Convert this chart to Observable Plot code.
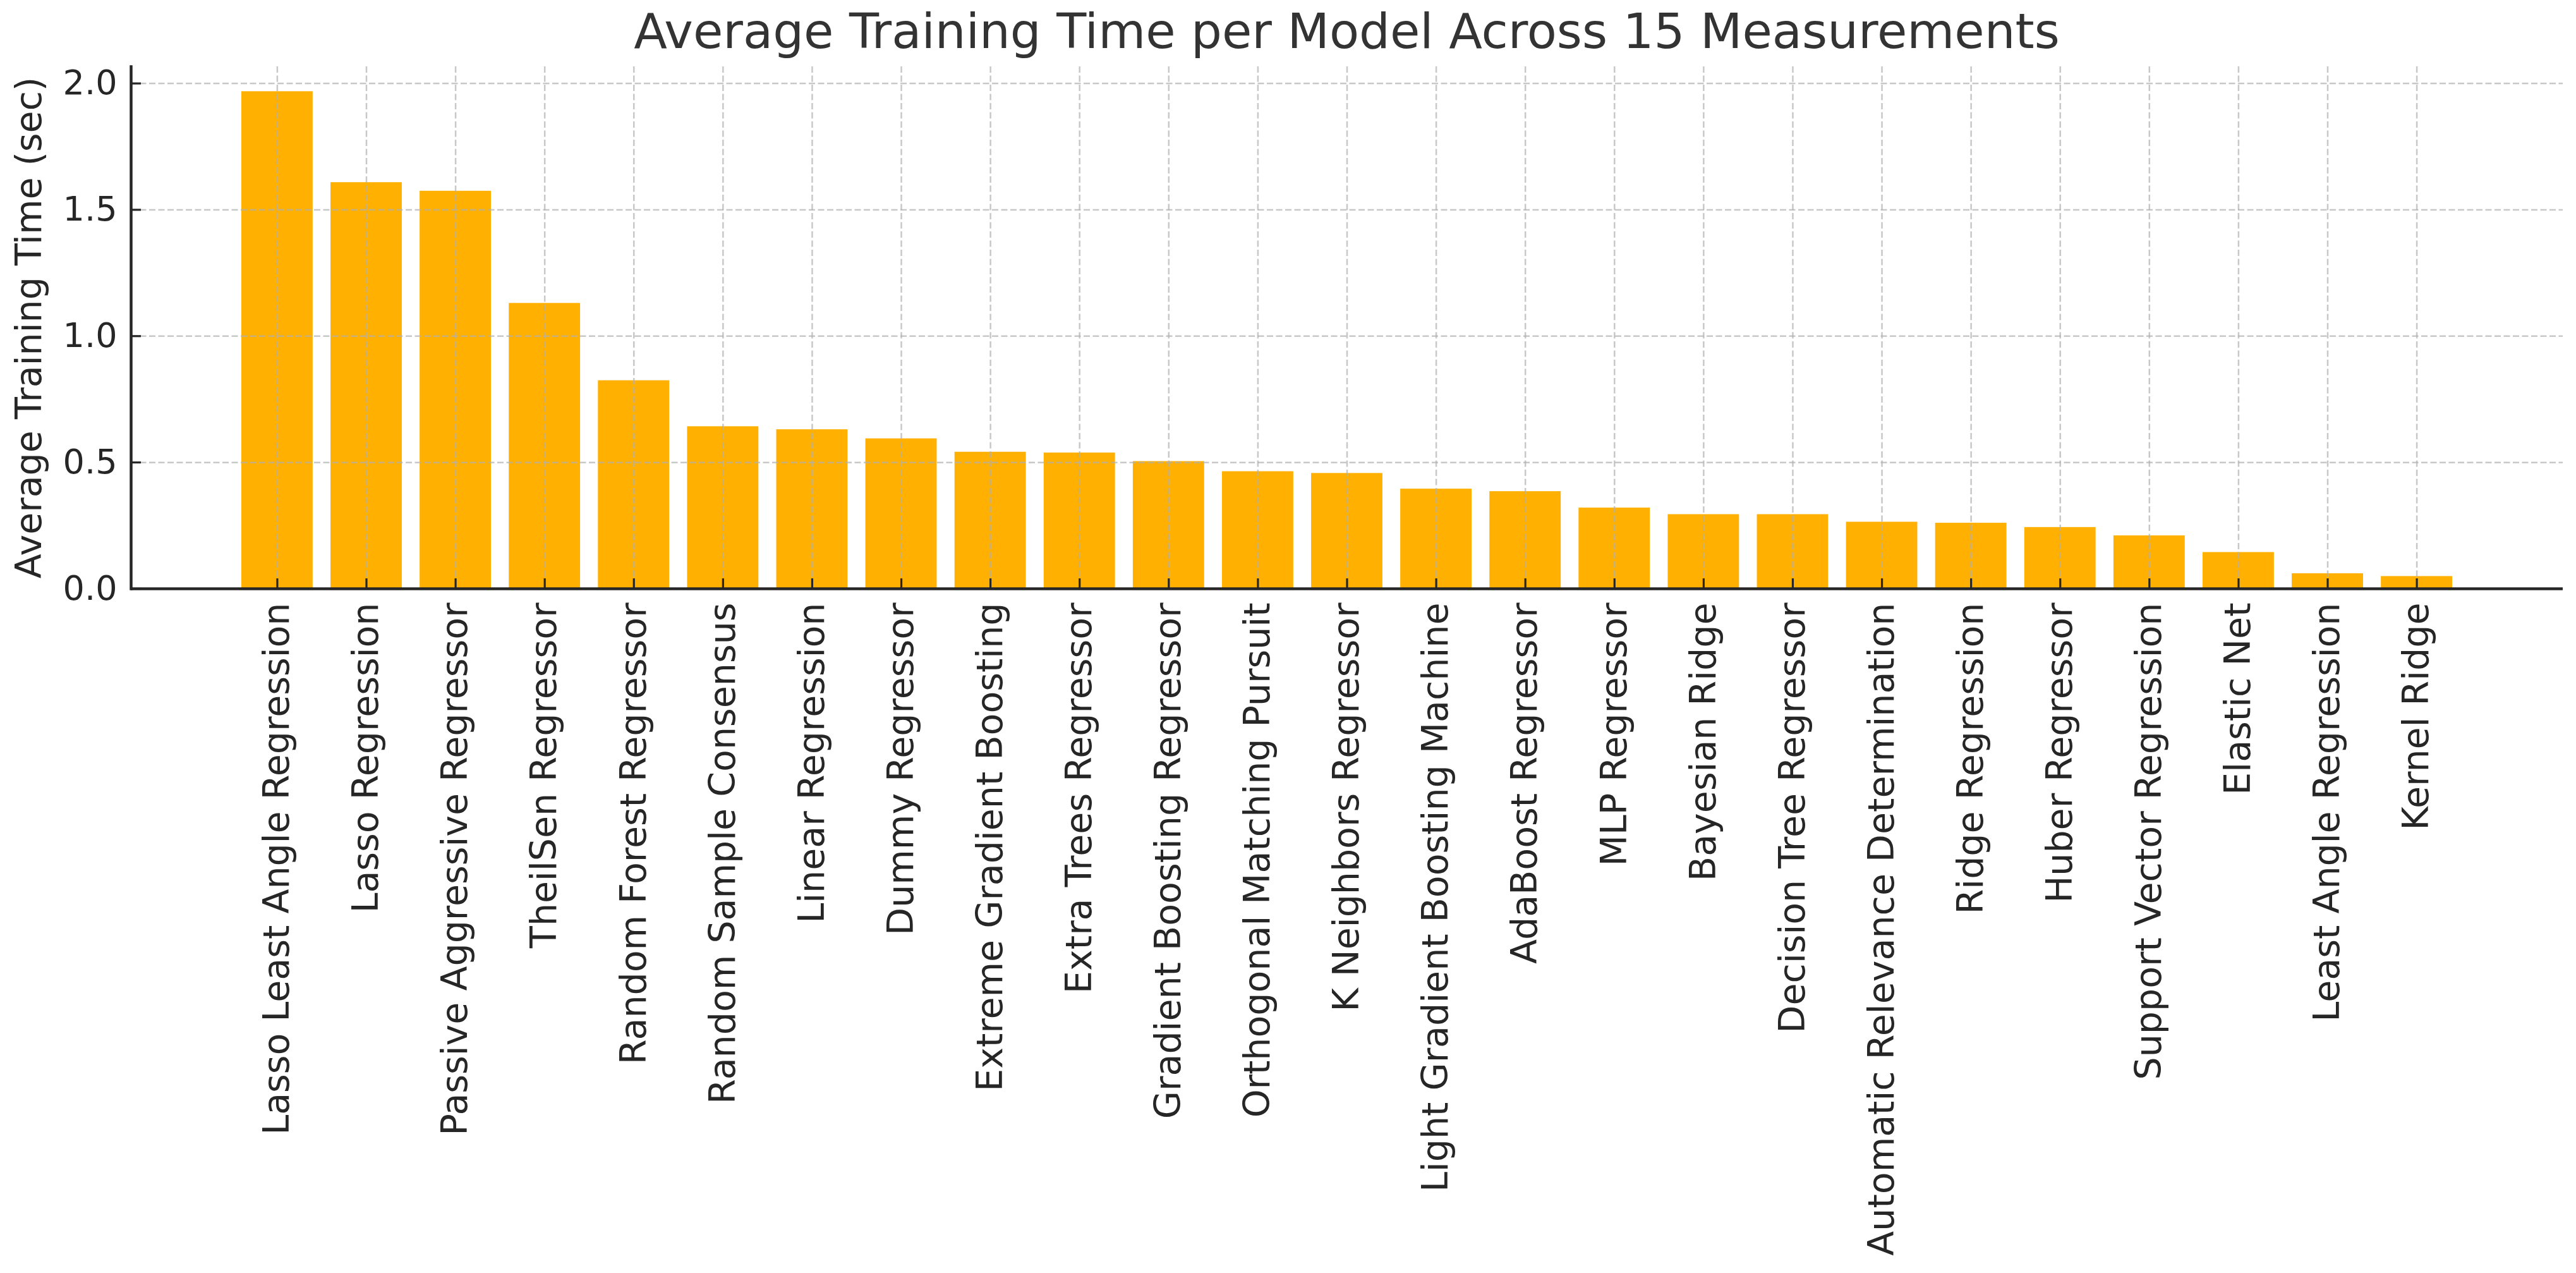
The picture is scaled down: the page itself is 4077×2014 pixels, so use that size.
<!DOCTYPE html>
<html>
<head>
<meta charset="utf-8">
<script src="https://cdn.jsdelivr.net/npm/d3@7"></script>
<script src="https://cdn.jsdelivr.net/npm/@observablehq/plot@0.6"></script>
<style>
  html, body { margin: 0; padding: 0; background: #ffffff; }
  #title {
    height: 100px; line-height: 100px;
    padding-left: 207px; padding-right: 21px;
    text-align: center; white-space: nowrap;
    font-family: "DejaVu Sans", sans-serif; font-size: 77px; color: #333333;
  }
</style>
</head>
<body>
<div id="title">Average Training Time per Model Across 15 Measurements</div>
<div id="chart"></div>
<script>
const models = [
  "Lasso Least Angle Regression",
  "Lasso Regression",
  "Passive Aggressive Regressor",
  "TheilSen Regressor",
  "Random Forest Regressor",
  "Random Sample Consensus",
  "Linear Regression",
  "Dummy Regressor",
  "Extreme Gradient Boosting",
  "Extra Trees Regressor",
  "Gradient Boosting Regressor",
  "Orthogonal Matching Pursuit",
  "K Neighbors Regressor",
  "Light Gradient Boosting Machine",
  "AdaBoost Regressor",
  "MLP Regressor",
  "Bayesian Ridge",
  "Decision Tree Regressor",
  "Automatic Relevance Determination",
  "Ridge Regression",
  "Huber Regressor",
  "Support Vector Regression",
  "Elastic Net",
  "Least Angle Regression",
  "Kernel Ridge"
];
const times = [
  1.968, 1.608, 1.574, 1.130, 0.824, 0.642, 0.630, 0.594, 0.541, 0.538,
  0.504, 0.464, 0.457, 0.395, 0.385, 0.320, 0.294, 0.294, 0.264, 0.260,
  0.243, 0.210, 0.144, 0.060, 0.049
];
const yTicks = [0, 0.5, 1.0, 1.5, 2.0];
const yLabel = "Average Training Time (sec)";

const data = models.map((m, i) => ({model: m, time: times[i]}));
const ink = "#262626";
const gridStyle = {stroke: "#b0b0b0", strokeOpacity: 0.7, strokeWidth: 2.5, strokeDasharray: "10,4.5"};

const chart = Plot.plot({
  width: 4077,
  height: 1914,
  marginTop: 5,
  marginLeft: 207,
  marginRight: 21,
  marginBottom: 1083,
  style: {fontFamily: "DejaVu Sans, sans-serif", background: "#ffffff", color: ink, overflow: "visible"},
  x: {type: "band", domain: models, paddingInner: 0.2, paddingOuter: 1.24, align: 0.5, round: false, label: null},
  y: {domain: [0, 2.0664], label: null},
  marks: [
    Plot.barY(data, {x: "model", y: "time", fill: "#ffb000"}),
    Plot.gridX(models, gridStyle),
    Plot.gridY(yTicks, gridStyle),
    // inward tick marks
    Plot.axisX(models, {tickSize: 16, dy: -16, fill: "none", stroke: ink, strokeWidth: 3.2, label: null}),
    Plot.axisY(yTicks, {tickSize: 16, dx: 16, fill: "none", stroke: ink, strokeWidth: 3.2, label: null}),
    // tick labels
    Plot.axisX(models, {tickSize: 0, tickPadding: 22, tickRotate: -90, fontSize: 57, fill: ink, label: null}),
    Plot.axisY(yTicks, {tickSize: 0, tickPadding: 22, tickFormat: d3.format(".1f"), fontSize: 54, fill: ink, label: null}),
    // y-axis title
    Plot.text([yLabel], {frameAnchor: "left", textAnchor: "middle", lineAnchor: "middle", rotate: -90, dx: -161, text: d => d, fontSize: 57, fill: ink}),
    // spines
    Plot.frame({anchor: "left", stroke: ink, strokeWidth: 4.5}),
    Plot.ruleY([0], {stroke: ink, strokeWidth: 4.5})
  ]
});
document.getElementById("chart").appendChild(chart);
</script>
</body>
</html>
